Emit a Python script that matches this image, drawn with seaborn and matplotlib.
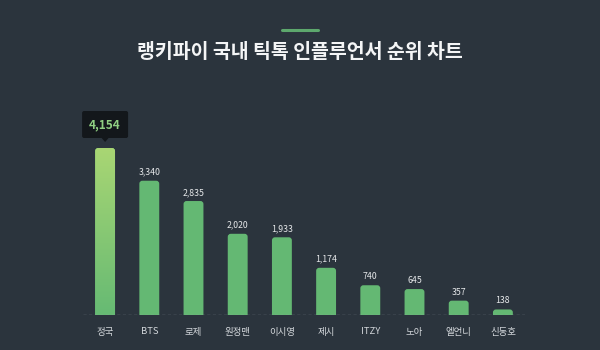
import numpy as np
import pandas as pd
import matplotlib
matplotlib.use("Agg")
import matplotlib.pyplot as plt
from matplotlib.patches import FancyBboxPatch, Polygon
from matplotlib.colors import LinearSegmentedColormap
import seaborn as sns

categories = ["정국", "BTS", "로제", "원정맨", "이시영", "제시", "ITZY", "노아", "엘언니", "신동호"]
values = [4154, 3340, 2835, 2020, 1933, 1174, 740, 645, 357, 138]
title = "랭키파이 국내 틱톡 인플루언서 순위 차트"

BG = "#2b343d"
BAR = "#64b873"
sns.set_theme(style="dark")
plt.rcParams["font.family"] = ["Noto Sans CJK KR", "DejaVu Sans"]

df = pd.DataFrame({"name": categories, "value": values})

fig = plt.figure(figsize=(6, 3.5), dpi=100, facecolor=BG)
ax = fig.add_axes([83 / 600, 35 / 350, 442 / 600, 215 / 350])
ax.set_facecolor(BG)
sns.barplot(data=df, x="name", y="value", color=BAR, width=0.45, ax=ax, saturation=1)
ax.set_ylim(0, 5348)
ax.set_xlim(-0.5, len(categories) - 0.5)
for s in ax.spines.values():
    s.set_visible(False)
ax.set_yticks([])
ax.set_xlabel("")
ax.set_ylabel("")
ax.tick_params(axis="x", length=0, pad=9, labelsize=6.8, labelcolor="#d3d7db")
ax.grid(False)

# px -> data scale
xpx = 10 / 442
ypx = 5348 / 215
aspect = ypx / xpx

patches = list(ax.patches)
for i, p in enumerate(patches):
    x0, y0 = p.get_x(), p.get_y()
    w, h = p.get_width(), p.get_height()
    p.set_visible(False)
    ext = 4 * ypx
    fb = FancyBboxPatch((x0, y0 - ext), w, h + ext,
                        boxstyle=f"round,pad=0,rounding_size={3 * xpx}",
                        mutation_aspect=aspect, facecolor=BAR, edgecolor="none",
                        zorder=2, clip_on=True)
    ax.add_patch(fb)
    if i == 0:
        grad = np.linspace(0, 1, 256).reshape(-1, 1)
        cmap = LinearSegmentedColormap.from_list("g", ["#66ba74", "#a9d673"])
        im = ax.imshow(grad, cmap=cmap, aspect="auto", origin="lower",
                       extent=(x0, x0 + w, 0, h), zorder=3)
        im.set_clip_path(fb)
        # tooltip
        cx = x0 + w / 2
        by = h + 10 * ypx
        bw, bh = 46 * xpx, 27 * ypx
        ax.add_patch(FancyBboxPatch((cx - bw / 2, by), bw, bh,
                                    boxstyle=f"round,pad=0,rounding_size={2 * xpx}",
                                    mutation_aspect=aspect, facecolor="#13171b",
                                    edgecolor="none", zorder=4, clip_on=False))
        ax.add_patch(Polygon([(cx - 3.5 * xpx, by), (cx + 3.5 * xpx, by), (cx, by - 4 * ypx)],
                             closed=True, facecolor="#13171b", edgecolor="none",
                             zorder=4, clip_on=False))
        ax.text(cx, by + bh / 2, f"{values[i]:,}", ha="center", va="center",
                color="#8fcf82", fontsize=8.5, fontweight="bold", zorder=5)
    else:
        ax.text(x0 + w / 2, h + 4 * ypx, f"{values[i]:,}", ha="center", va="bottom",
                color="#e6e8ea", fontsize=6.3, zorder=5)

ax.axhline(0, color="#9aa3ab", lw=0.9, ls=(0, (2.5, 2)), zorder=4)

fig.text(0.5, 1 - 53 / 350, title, ha="center", va="center", color="#f4f5f6",
         fontsize=14, fontweight="bold")
fig.add_artist(plt.Line2D([282 / 600, 318 / 600], [1 - 30 / 350, 1 - 30 / 350],
                          color="#5da86d", lw=2.2))

fig.savefig("out.png", dpi=100, facecolor=BG)
